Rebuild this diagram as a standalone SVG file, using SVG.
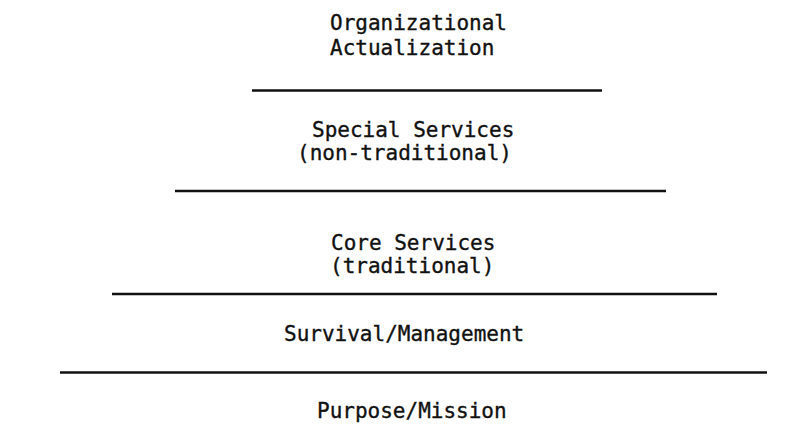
<svg xmlns="http://www.w3.org/2000/svg" width="797" height="446" viewBox="0 0 797 446">
  <style>
    .lbl { font-family: "DejaVu Sans Mono", "Liberation Mono", monospace; font-size: 21px; fill: #111; stroke: #111; stroke-width: 0.35; }
    .tier { stroke: #111; stroke-width: 2.5; fill: none; }
  </style>
  <rect width="797" height="446" fill="#fff"/>

  <!-- tier labels, top to bottom -->
  <g id="organizational-actualization">
    <text class="lbl" x="330" y="30">Organizational</text>
    <text class="lbl" x="330" y="55">Actualization</text>
  </g>
  <g id="special-services">
    <text class="lbl" x="312" y="137">Special Services</text>
    <text class="lbl" x="297" y="160">(non-traditional)</text>
  </g>
  <g id="core-services">
    <text class="lbl" x="331" y="250">Core Services</text>
    <text class="lbl" x="330" y="273">(traditional)</text>
  </g>
  <g id="survival-management">
    <text class="lbl" x="284" y="341">Survival/Management</text>
  </g>
  <g id="purpose-mission">
    <text class="lbl" x="317" y="418">Purpose/Mission</text>
  </g>

  <!-- dividing rules, widening toward the base -->
  <g id="connectors">
    <line class="tier" x1="252" y1="90.5" x2="602" y2="90.5"/>
    <line class="tier" x1="175" y1="191" x2="666" y2="191"/>
    <line class="tier" x1="112" y1="294" x2="717" y2="294"/>
    <line class="tier" x1="60" y1="372.5" x2="767" y2="372.5"/>
  </g>
</svg>
